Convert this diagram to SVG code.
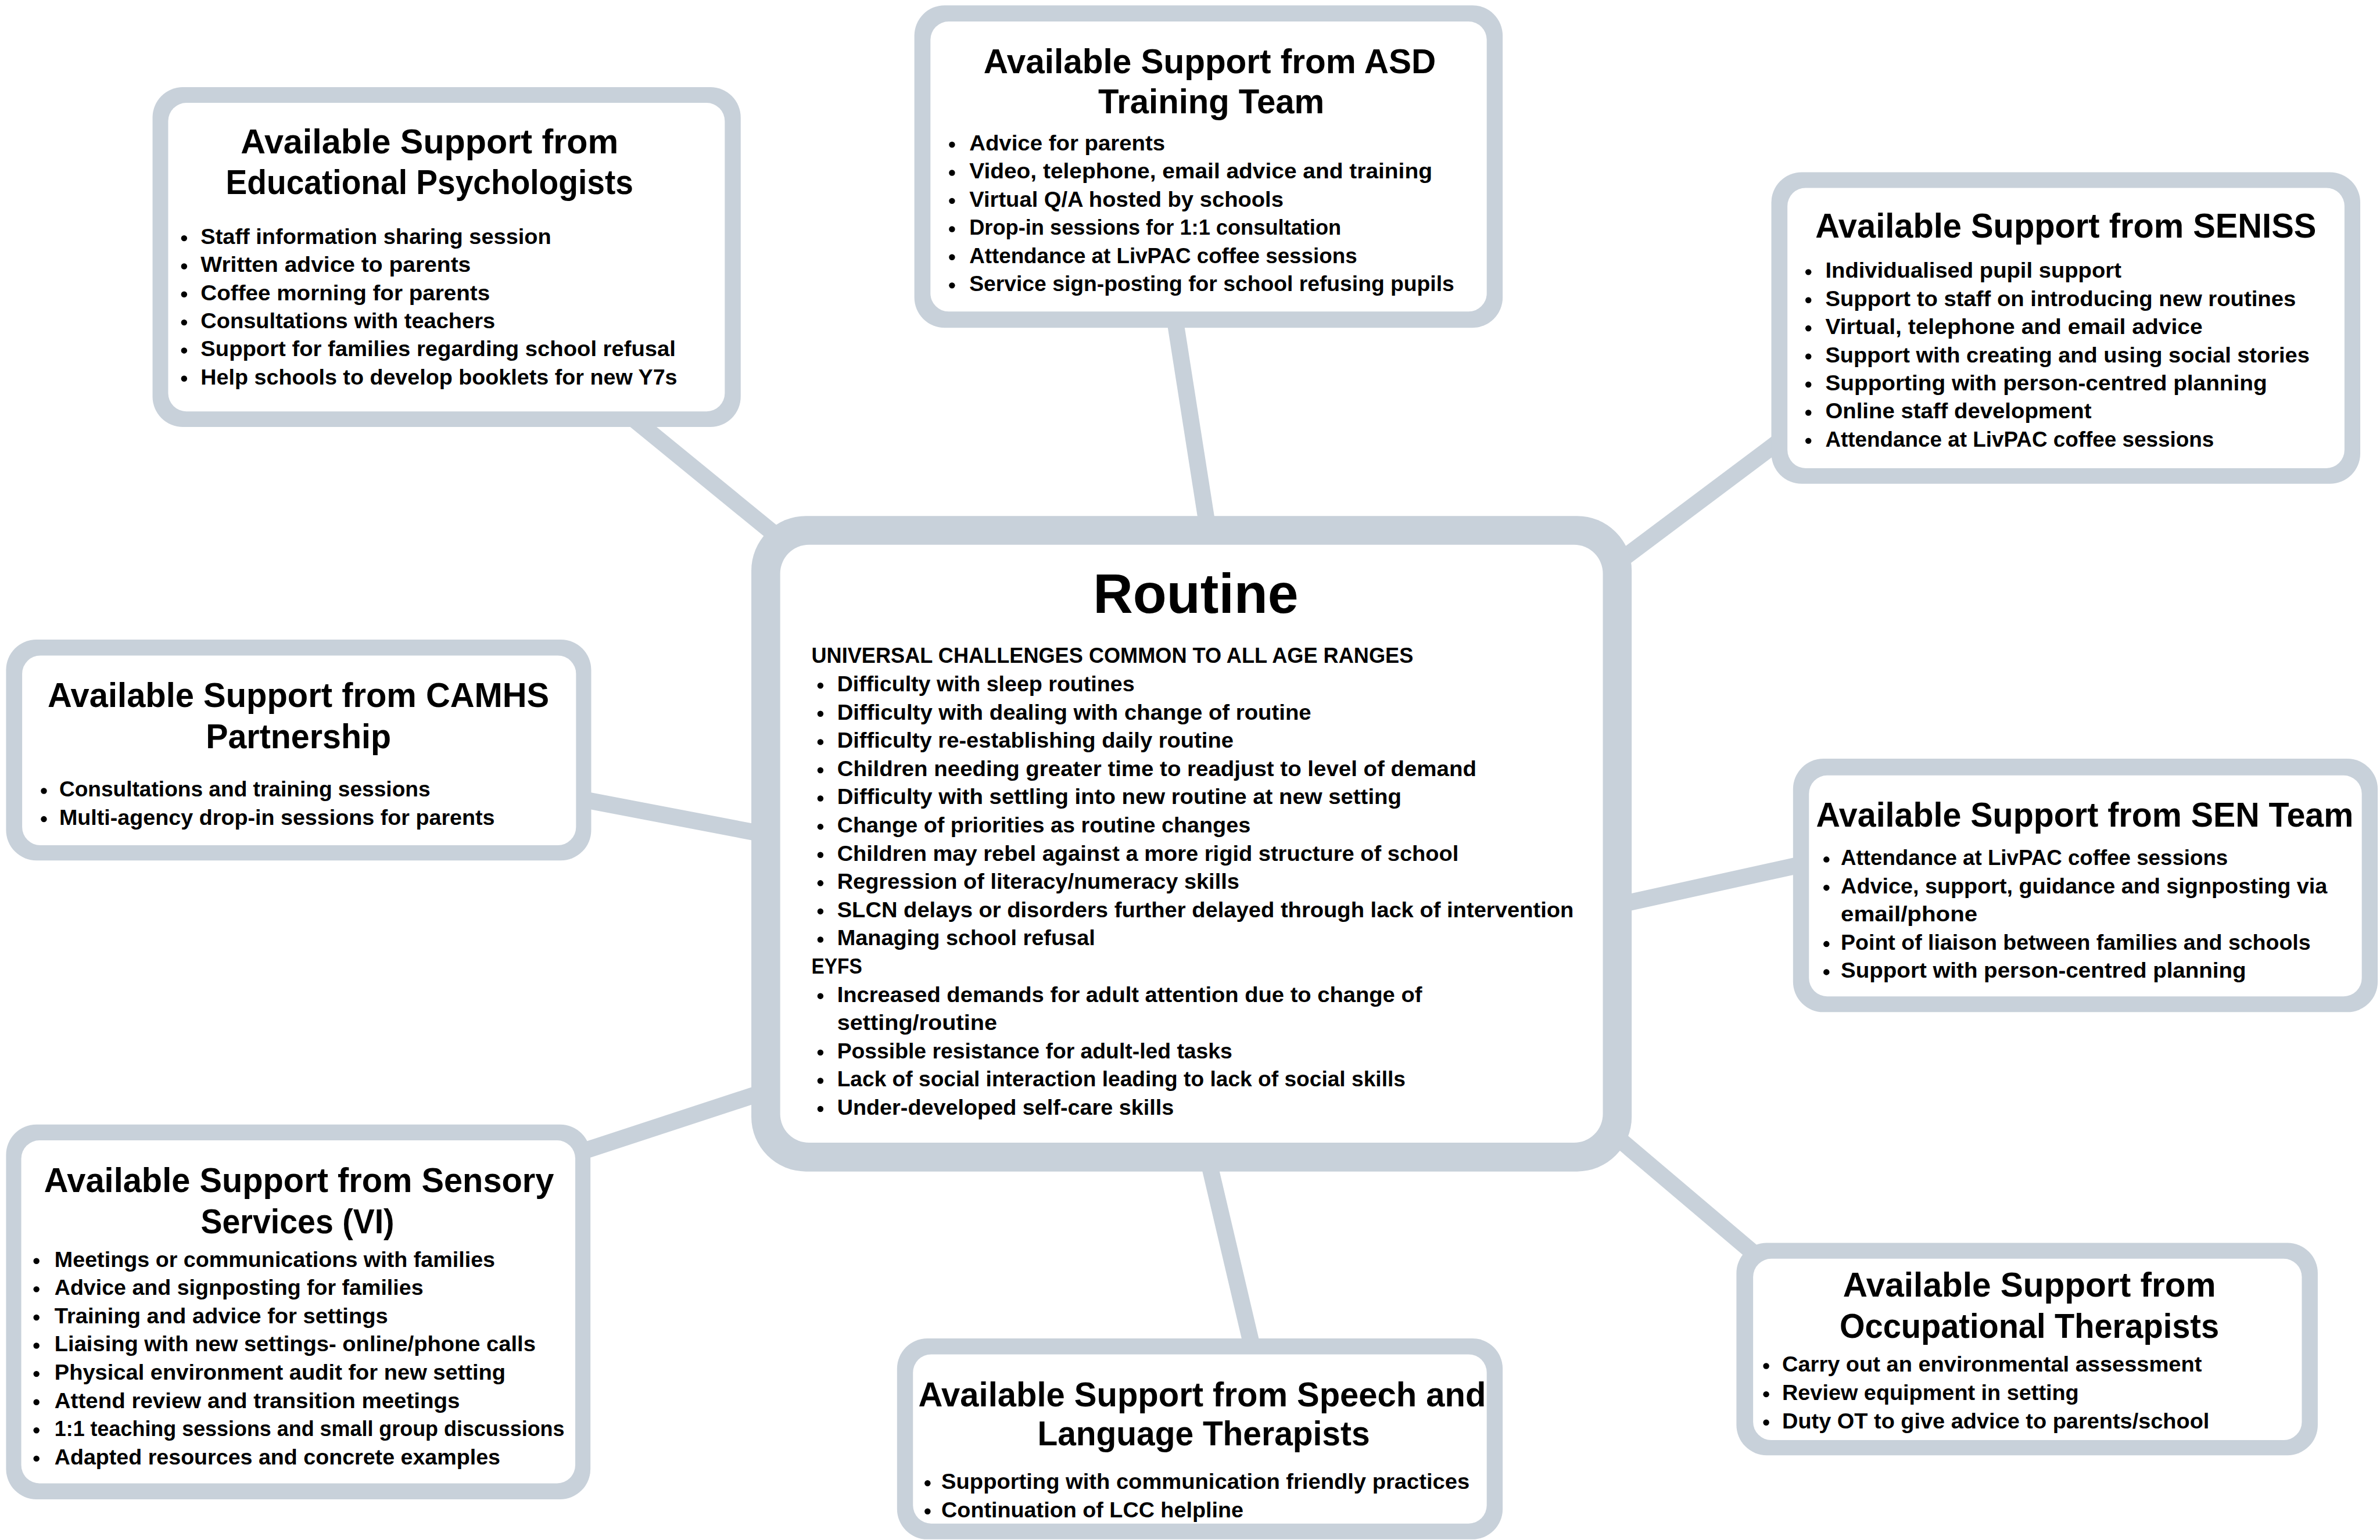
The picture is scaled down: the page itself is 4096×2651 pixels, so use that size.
<svg xmlns="http://www.w3.org/2000/svg" width="4096" height="2651" viewBox="0 0 4096 2651">
<style>
.conn{stroke:#c8d1da;stroke-width:11;fill:none}
.outer{fill:#c8d1da}
.inner{fill:#ffffff}
text{font-family:"Liberation Sans",Arial,sans-serif;font-weight:700;fill:#000000}
.t{font-size:22.7px;text-anchor:middle}
.b{font-size:14.4px}
.h{font-size:14.2px}
.r{font-size:37px;text-anchor:middle}
.dot{fill:#000000}
.dot circle{r:2px}
</style>
<rect x="0" y="0" width="4096" height="2651" fill="#ffffff"/>
<g transform="scale(2.61224)">
<g id="connectors">
<line class="conn" x1="410" y1="270" x2="525" y2="364"/>
<line class="conn" x1="774" y1="210" x2="796" y2="350"/>
<line class="conn" x1="1180" y1="285" x2="1060" y2="375"/>
<line class="conn" x1="380" y1="526" x2="505" y2="550"/>
<line class="conn" x1="1190" y1="569" x2="1063" y2="597"/>
<line class="conn" x1="380" y1="760" x2="505" y2="719"/>
<line class="conn" x1="795" y1="760" x2="826" y2="892"/>
<line class="conn" x1="1060" y1="745" x2="1165" y2="834"/>
</g>

<g id="node-routine">
<rect class="outer" x="495" y="340" width="580" height="432" rx="36"/>
<rect class="inner" x="514" y="359" width="542" height="394" rx="19"/>
<text class="r" x="787.8" y="403.8" textLength="135.2" lengthAdjust="spacingAndGlyphs">Routine</text>
<text class="h" x="534.6" y="436.8" textLength="396.5" lengthAdjust="spacingAndGlyphs">UNIVERSAL CHALLENGES COMMON TO ALL AGE RANGES</text>
<g class="dot">
<circle cx="540.5" cy="451.8" r="2"/><circle cx="540.5" cy="470.4" r="2"/><circle cx="540.5" cy="489" r="2"/><circle cx="540.5" cy="507.6" r="2"/><circle cx="540.5" cy="526.2" r="2"/><circle cx="540.5" cy="544.8" r="2"/><circle cx="540.5" cy="563.4" r="2"/><circle cx="540.5" cy="582" r="2"/><circle cx="540.5" cy="600.6" r="2"/><circle cx="540.5" cy="619.2" r="2"/><circle cx="540.5" cy="656.4" r="2"/><circle cx="540.5" cy="693.6" r="2"/><circle cx="540.5" cy="712.2" r="2"/><circle cx="540.5" cy="730.8" r="2"/>
</g>
<text class="b" x="551.5" y="455.6" textLength="196" lengthAdjust="spacingAndGlyphs">Difficulty with sleep routines</text>
<text class="b" x="551.5" y="474.2" textLength="312.4" lengthAdjust="spacingAndGlyphs">Difficulty with dealing with change of routine</text>
<text class="b" x="551.5" y="492.8" textLength="261.2" lengthAdjust="spacingAndGlyphs">Difficulty re-establishing daily routine</text>
<text class="b" x="551.5" y="511.4" textLength="421.2" lengthAdjust="spacingAndGlyphs">Children needing greater time to readjust to level of demand</text>
<text class="b" x="551.5" y="530" textLength="371.8" lengthAdjust="spacingAndGlyphs">Difficulty with settling into new routine at new setting</text>
<text class="b" x="551.5" y="548.6" textLength="272.4" lengthAdjust="spacingAndGlyphs">Change of priorities as routine changes</text>
<text class="b" x="551.5" y="567.2" textLength="409.5" lengthAdjust="spacingAndGlyphs">Children may rebel against a more rigid structure of school</text>
<text class="b" x="551.5" y="585.8" textLength="265" lengthAdjust="spacingAndGlyphs">Regression of literacy/numeracy skills</text>
<text class="b" x="551.5" y="604.4" textLength="485.3" lengthAdjust="spacingAndGlyphs">SLCN delays or disorders further delayed through lack of intervention</text>
<text class="b" x="551.5" y="623" textLength="170" lengthAdjust="spacingAndGlyphs">Managing school refusal</text>
<text class="h" x="534.6" y="641.6" textLength="33.4" lengthAdjust="spacingAndGlyphs">EYFS</text>
<text class="b" x="551.5" y="660.2" textLength="385.4" lengthAdjust="spacingAndGlyphs">Increased demands for adult attention due to change of</text>
<text class="b" x="551.5" y="678.8" textLength="105.4" lengthAdjust="spacingAndGlyphs">setting/routine</text>
<text class="b" x="551.5" y="697.4" textLength="260.4" lengthAdjust="spacingAndGlyphs">Possible resistance for adult-led tasks</text>
<text class="b" x="551.5" y="716" textLength="374.5" lengthAdjust="spacingAndGlyphs">Lack of social interaction leading to lack of social skills</text>
<text class="b" x="551.5" y="734.6" textLength="221.9" lengthAdjust="spacingAndGlyphs">Under-developed self-care skills</text>
</g>

<g id="node-educational-psychologists">
<rect class="outer" x="100.5" y="57.4" width="387.5" height="224" rx="20"/>
<rect class="inner" x="110.8" y="67.8" width="366.7" height="203.3" rx="12"/>
<text class="t" x="283" y="101.1" textLength="248.8" lengthAdjust="spacingAndGlyphs">Available Support from</text>
<text class="t" x="283" y="127.9" textLength="268.5" lengthAdjust="spacingAndGlyphs">Educational Psychologists</text>
<g class="dot">
<circle cx="121.3" cy="157" r="2"/><circle cx="121.3" cy="175.5" r="2"/><circle cx="121.3" cy="194" r="2"/><circle cx="121.3" cy="212.5" r="2"/><circle cx="121.3" cy="231" r="2"/><circle cx="121.3" cy="249.5" r="2"/>
</g>
<text class="b" x="132.2" y="160.8" textLength="231" lengthAdjust="spacingAndGlyphs">Staff information sharing session</text>
<text class="b" x="132.2" y="179.3" textLength="178" lengthAdjust="spacingAndGlyphs">Written advice to parents</text>
<text class="b" x="132.2" y="197.8" textLength="190.6" lengthAdjust="spacingAndGlyphs">Coffee morning for parents</text>
<text class="b" x="132.2" y="216.3" textLength="194" lengthAdjust="spacingAndGlyphs">Consultations with teachers</text>
<text class="b" x="132.2" y="234.8" textLength="313" lengthAdjust="spacingAndGlyphs">Support for families regarding school refusal</text>
<text class="b" x="132.2" y="253.3" textLength="314" lengthAdjust="spacingAndGlyphs">Help schools to develop booklets for new Y7s</text>
</g>

<g id="node-asd-training-team">
<rect class="outer" x="602.4" y="3.5" width="387.6" height="212.5" rx="20"/>
<rect class="inner" x="613" y="14.2" width="366.5" height="191.1" rx="12"/>
<text class="t" x="797" y="48.3" textLength="298" lengthAdjust="spacingAndGlyphs">Available Support from ASD</text>
<text class="t" x="798" y="74.8" textLength="149" lengthAdjust="spacingAndGlyphs">Training Team</text>
<g class="dot">
<circle cx="627.2" cy="95.3" r="2"/><circle cx="627.2" cy="113.9" r="2"/><circle cx="627.2" cy="132.4" r="2"/><circle cx="627.2" cy="151" r="2"/><circle cx="627.2" cy="169.5" r="2"/><circle cx="627.2" cy="188.1" r="2"/>
</g>
<text class="b" x="638.6" y="99.1" textLength="129" lengthAdjust="spacingAndGlyphs">Advice for parents</text>
<text class="b" x="638.6" y="117.7" textLength="305" lengthAdjust="spacingAndGlyphs">Video, telephone, email advice and training</text>
<text class="b" x="638.6" y="136.2" textLength="207" lengthAdjust="spacingAndGlyphs">Virtual Q/A hosted by schools</text>
<text class="b" x="638.6" y="154.8" textLength="245" lengthAdjust="spacingAndGlyphs">Drop-in sessions for 1:1 consultation</text>
<text class="b" x="638.6" y="173.3" textLength="255.5" lengthAdjust="spacingAndGlyphs">Attendance at LivPAC coffee sessions</text>
<text class="b" x="638.6" y="191.9" textLength="319.5" lengthAdjust="spacingAndGlyphs">Service sign-posting for school refusing pupils</text>
</g>

<g id="node-seniss">
<rect class="outer" x="1167" y="113.5" width="388" height="205.3" rx="20"/>
<rect class="inner" x="1177.6" y="123.8" width="367" height="184.7" rx="12"/>
<text class="t" x="1361" y="156.5" textLength="330" lengthAdjust="spacingAndGlyphs">Available Support from SENISS</text>
<g class="dot">
<circle cx="1191.4" cy="179.3" r="2"/><circle cx="1191.4" cy="197.8" r="2"/><circle cx="1191.4" cy="216.4" r="2"/><circle cx="1191.4" cy="234.9" r="2"/><circle cx="1191.4" cy="253.4" r="2"/><circle cx="1191.4" cy="272" r="2"/><circle cx="1191.4" cy="290.5" r="2"/>
</g>
<text class="b" x="1202.6" y="183.1" textLength="195" lengthAdjust="spacingAndGlyphs">Individualised pupil support</text>
<text class="b" x="1202.6" y="201.6" textLength="310" lengthAdjust="spacingAndGlyphs">Support to staff on introducing new routines</text>
<text class="b" x="1202.6" y="220.2" textLength="248.5" lengthAdjust="spacingAndGlyphs">Virtual, telephone and email advice</text>
<text class="b" x="1202.6" y="238.7" textLength="319" lengthAdjust="spacingAndGlyphs">Support with creating and using social stories</text>
<text class="b" x="1202.6" y="257.2" textLength="291" lengthAdjust="spacingAndGlyphs">Supporting with person-centred planning</text>
<text class="b" x="1202.6" y="275.8" textLength="175.3" lengthAdjust="spacingAndGlyphs">Online staff development</text>
<text class="b" x="1202.6" y="294.3" textLength="256" lengthAdjust="spacingAndGlyphs">Attendance at LivPAC coffee sessions</text>
</g>

<g id="node-camhs-partnership">
<rect class="outer" x="4" y="421.5" width="385.5" height="145.5" rx="20"/>
<rect class="inner" x="14.6" y="432" width="364.9" height="125" rx="12"/>
<text class="t" x="196.6" y="465.7" textLength="330.5" lengthAdjust="spacingAndGlyphs">Available Support from CAMHS</text>
<text class="t" x="196.6" y="493" textLength="122" lengthAdjust="spacingAndGlyphs">Partnership</text>
<g class="dot">
<circle cx="28.9" cy="521.2" r="2"/><circle cx="28.9" cy="539.8" r="2"/>
</g>
<text class="b" x="39" y="525" textLength="244.5" lengthAdjust="spacingAndGlyphs">Consultations and training sessions</text>
<text class="b" x="39" y="543.6" textLength="287" lengthAdjust="spacingAndGlyphs">Multi-agency drop-in sessions for parents</text>
</g>

<g id="node-sen-team">
<rect class="outer" x="1181.3" y="500" width="385.2" height="167" rx="20"/>
<rect class="inner" x="1191.8" y="511" width="364.2" height="145.6" rx="12"/>
<text class="t" x="1373.5" y="544.8" textLength="354" lengthAdjust="spacingAndGlyphs">Available Support from SEN Team</text>
<g class="dot">
<circle cx="1203.3" cy="566.4" r="2"/><circle cx="1203.3" cy="585" r="2"/><circle cx="1203.3" cy="622.1" r="2"/><circle cx="1203.3" cy="640.6" r="2"/>
</g>
<text class="b" x="1212.8" y="570.2" textLength="255" lengthAdjust="spacingAndGlyphs">Attendance at LivPAC coffee sessions</text>
<text class="b" x="1212.8" y="588.8" textLength="320.5" lengthAdjust="spacingAndGlyphs">Advice, support, guidance and signposting via</text>
<text class="b" x="1212.8" y="607.3" textLength="90" lengthAdjust="spacingAndGlyphs">email/phone</text>
<text class="b" x="1212.8" y="625.9" textLength="309.5" lengthAdjust="spacingAndGlyphs">Point of liaison between families and schools</text>
<text class="b" x="1212.8" y="644.4" textLength="267" lengthAdjust="spacingAndGlyphs">Support with person-centred planning</text>
</g>

<g id="node-sensory-services">
<rect class="outer" x="4" y="741" width="385" height="247" rx="20"/>
<rect class="inner" x="14" y="751.5" width="365" height="226" rx="12"/>
<text class="t" x="197" y="785.5" textLength="336" lengthAdjust="spacingAndGlyphs">Available Support from Sensory</text>
<text class="t" x="196" y="812.7" textLength="127.5" lengthAdjust="spacingAndGlyphs">Services (VI)</text>
<g class="dot">
<circle cx="24" cy="831" r="2"/><circle cx="24" cy="849.6" r="2"/><circle cx="24" cy="868.2" r="2"/><circle cx="24" cy="886.8" r="2"/><circle cx="24" cy="905.4" r="2"/><circle cx="24" cy="924" r="2"/><circle cx="24" cy="942.6" r="2"/><circle cx="24" cy="961.2" r="2"/>
</g>
<text class="b" x="35.9" y="834.8" textLength="290.3" lengthAdjust="spacingAndGlyphs">Meetings or communications with families</text>
<text class="b" x="35.9" y="853.4" textLength="243" lengthAdjust="spacingAndGlyphs">Advice and signposting for families</text>
<text class="b" x="35.9" y="872" textLength="219.7" lengthAdjust="spacingAndGlyphs">Training and advice for settings</text>
<text class="b" x="35.9" y="890.6" textLength="317" lengthAdjust="spacingAndGlyphs">Liaising with new settings- online/phone calls</text>
<text class="b" x="35.9" y="909.2" textLength="297.2" lengthAdjust="spacingAndGlyphs">Physical environment audit for new setting</text>
<text class="b" x="35.9" y="927.8" textLength="267.1" lengthAdjust="spacingAndGlyphs">Attend review and transition meetings</text>
<text class="b" x="35.9" y="946.4" textLength="336" lengthAdjust="spacingAndGlyphs">1:1 teaching sessions and small group discussions</text>
<text class="b" x="35.9" y="965" textLength="293.7" lengthAdjust="spacingAndGlyphs">Adapted resources and concrete examples</text>
</g>

<g id="node-speech-language">
<rect class="outer" x="591" y="882" width="399" height="132.4" rx="20"/>
<rect class="inner" x="601.5" y="892.5" width="378" height="111.5" rx="12"/>
<text class="t" x="792" y="926.6" textLength="374" lengthAdjust="spacingAndGlyphs">Available Support from Speech and</text>
<text class="t" x="793" y="952.3" textLength="219" lengthAdjust="spacingAndGlyphs">Language Therapists</text>
<g class="dot">
<circle cx="611.1" cy="977.4" r="2"/><circle cx="611.1" cy="996" r="2"/>
</g>
<text class="b" x="620.2" y="981.2" textLength="348" lengthAdjust="spacingAndGlyphs">Supporting with communication friendly practices</text>
<text class="b" x="620.2" y="999.8" textLength="199" lengthAdjust="spacingAndGlyphs">Continuation of LCC helpline</text>
</g>

<g id="node-occupational-therapists">
<rect class="outer" x="1144" y="819" width="383" height="140" rx="20"/>
<rect class="inner" x="1155" y="829.5" width="361.5" height="119.5" rx="12"/>
<text class="t" x="1337" y="854.5" textLength="245.7" lengthAdjust="spacingAndGlyphs">Available Support from</text>
<text class="t" x="1337" y="881.5" textLength="250" lengthAdjust="spacingAndGlyphs">Occupational Therapists</text>
<g class="dot">
<circle cx="1163.6" cy="900.2" r="2"/><circle cx="1163.6" cy="918.8" r="2"/><circle cx="1163.6" cy="937.4" r="2"/>
</g>
<text class="b" x="1174.1" y="904" textLength="276.5" lengthAdjust="spacingAndGlyphs">Carry out an environmental assessment</text>
<text class="b" x="1174.1" y="922.6" textLength="195.5" lengthAdjust="spacingAndGlyphs">Review equipment in setting</text>
<text class="b" x="1174.1" y="941.2" textLength="281.5" lengthAdjust="spacingAndGlyphs">Duty OT to give advice to parents/school</text>
</g>
</g>
</svg>
